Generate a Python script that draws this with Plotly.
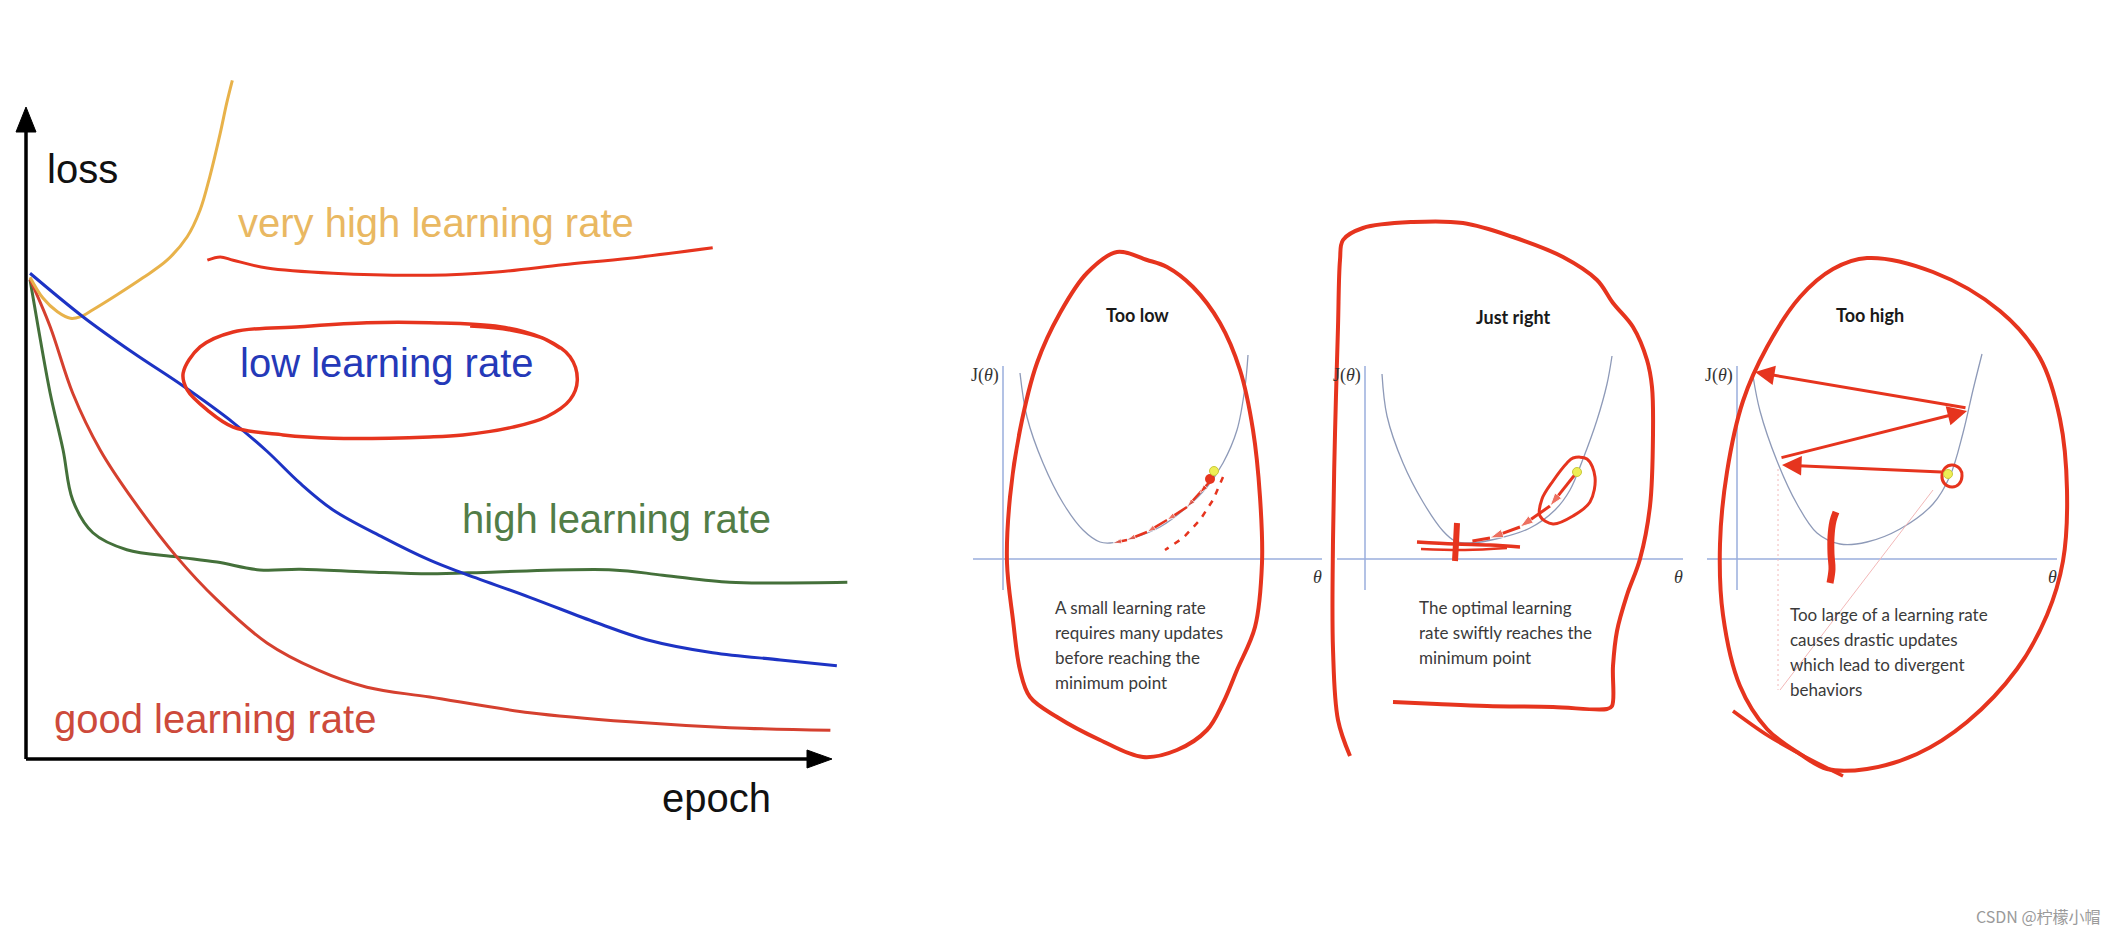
import plotly.graph_objects as go

W, H = 2118, 936

# ---------------- Left chart: loss vs epoch (epoch 0..100, loss 0..100) ----------------
ORANGE_EPOCH = [0.5, 2.1, 3.9, 5.5, 6.7, 8.3, 11.3, 14.5, 17.5, 20.0, 21.6, 22.8, 24.1, 24.9, 25.6]
ORANGE_LOSS = [73.9, 70.7, 68.6, 67.6, 67.8, 68.9, 71.2, 73.8, 76.5, 80.1, 84.2, 89.3, 96.0, 100.6, 104.1]

BLUE_EPOCH = [0.5, 7.1, 13.3, 19.5, 25.7, 29.9, 34.0, 38.1, 44.3, 50.1, 54.2, 62.5, 70.8, 77.0, 85.2, 93.6, 100.6]
BLUE_LOSS = [74.5, 67.8, 62.3, 57.2, 51.6, 47.2, 42.3, 38.2, 34.0, 30.5, 28.5, 24.8, 20.9, 18.3, 16.3, 15.2, 14.3]

GREEN_EPOCH = [0.5, 1.5, 3.0, 4.6, 5.8, 8.3, 12.5, 18.7, 23.7, 29.0, 34.0, 42.3, 50.1, 58.4, 72.8, 79.0, 87.3, 93.6, 101.9]
GREEN_LOSS = [73.5, 66.3, 56.1, 47.4, 39.7, 34.7, 32.1, 31.0, 30.2, 29.0, 29.1, 28.7, 28.4, 28.7, 29.0, 28.2, 27.1, 27.0, 27.1]

RED_EPOCH = [0.5, 3.0, 5.8, 9.2, 13.3, 18.7, 23.7, 29.9, 36.1, 42.3, 50.1, 62.5, 74.9, 87.3, 99.8]
RED_LOSS = [73.6, 66.3, 56.1, 47.4, 39.7, 31.0, 24.4, 17.8, 13.7, 11.0, 9.5, 7.1, 5.7, 4.8, 4.4]

# hand-drawn red marks on the left chart
UNDER_EPOCH = [22.5, 24.1, 25.7, 29.9, 38.1, 50.1, 58.4, 66.6, 74.9, 85.2]
UNDER_LOSS = [76.5, 77.0, 76.5, 75.3, 74.5, 74.2, 74.7, 75.8, 76.8, 78.4]
OVAL_EPOCH = [66.3, 63.8, 58.8, 50.1, 42.3, 34.0, 25.7, 21.6, 19.5, 20.0, 22.5, 25.7, 31.9, 38.1,
              50.1, 54.2, 60.4, 64.6, 67.5, 68.4, 67.5, 64.6, 60.1, 55.1]
OVAL_LOSS = [63.0, 64.7, 66.3, 66.9, 66.9, 66.3, 65.5, 63.2, 59.2, 56.6, 53.5, 50.9, 49.7, 49.2,
             49.4, 49.7, 50.9, 52.5, 55.1, 58.1, 61.7, 64.3, 65.8, 66.4]

LEFT_LABELS = ["loss", "very high learning rate", "low learning rate",
               "high learning rate", "good learning rate", "epoch"]
LEFT_LABEL_EPOCH = [2.4, 26.1, 26.3, 53.9, 3.2, 78.7]
LEFT_LABEL_LOSS = [90.5, 82.2, 60.7, 36.8, 6.1, -6.0]

AXIS_MAX = 100  # arrow tips of the epoch / loss axes

# ---------------- Right: three gradient-descent panels (theta, J) ----------------
PANEL_TITLES = ["Too low", "Just right", "Too high"]
PANEL_TEXT = [
    ["A small learning rate", "requires many updates", "before reaching the", "minimum point"],
    ["The optimal learning", "rate swiftly reaches the", "minimum point"],
    ["Too large of a learning rate", "causes drastic updates", "which lead to divergent", "behaviors"],
]
PANEL_TEXT_J = [[-48, -73, -98, -123], [-48, -73, -98], [-55, -80, -105, -130]]
PANEL_TEXT_T = [50, 52, 51]
PANEL_TITLE_T = [134, 148, 133]
PANEL_TITLE_J = [244, 242, 244]

THETA_AXIS = [[-30, 319], [-28, 318], [-30, 320]]
J_AXIS = [-31, 193]

P1_CURVE_T = [17, 24, 40, 60, 80, 97, 107, 130, 157, 184, 204, 220, 234, 242, 245]
P1_CURVE_J = [186, 142, 96, 56, 29, 17, 16, 21, 32, 52, 72, 96, 129, 172, 204]
P2_CURVE_T = [17, 22, 38, 58, 78, 90, 105, 135, 165, 190, 205, 218, 232, 242, 247]
P2_CURVE_J = [185, 143, 96, 57, 28, 18, 16, 21, 31, 49, 69, 100, 139, 175, 203]
P3_CURVE_T = [16, 23, 40, 60, 80, 103, 130, 163, 196, 213, 226, 236, 245]
P3_CURVE_J = [183, 148, 98, 55, 26, 15, 17, 30, 55, 83, 126, 169, 205]

START_T = [211, 212, 211]
START_J = [88, 87, 85]

# hand-drawn red marks, panel 1
P1_LOOP_T = [114, 144, 164, 190, 217, 237, 250, 257, 259, 252, 234, 220, 204, 174, 140, 97, 54, 27,
             17, 10, 4, 7, 17, 34, 57, 84, 114]
P1_LOOP_J = [307, 299, 292, 272, 236, 189, 129, 62, -4, -68, -111, -144, -171, -191, -198, -181,
             -158, -138, -111, -61, -4, 62, 129, 196, 246, 286, 307]
P1_STEPS_T = [210, 197, 184, 164, 144, 124, 110]
P1_STEPS_J = [81, 66, 52, 39, 27, 19, 16]
P1_DASH_T = [220, 210, 197, 180, 162]
P1_DASH_J = [82, 59, 39, 21, 9]

# panel 2
P2_LOOP_T = [-15, -27, -32, -32, -30, -27, -25, -22, -2, 48, 98, 148, 198, 232, 248, 268, 282, 287,
             288, 285, 275, 262, 252, 248, 247, 242, 188, 122, 72, 28]
P2_LOOP_J = [-197, -161, -90, 18, 125, 232, 299, 319, 331, 337, 336, 322, 302, 279, 256, 232, 199,
             172, 125, 53, 0, -36, -72, -107, -147, -150, -148, -147, -145, -143]
P2_RING_T = [208, 222, 230, 225, 208, 188, 175, 177, 188, 202, 208]
P2_RING_J = [101, 100, 82, 57, 43, 35, 43, 60, 78, 96, 101]
P2_STEPS_T = [212, 185, 155, 125, 95]
P2_STEPS_J = [87, 53, 32, 21, 16]
P2_HBAR_T = [52, 90, 125, 155]
P2_HBAR_J = [17, 15, 14, 12]
P2_HBAR2_T = [56, 100, 142]
P2_HBAR2_J = [10, 9, 11]
P2_VBAR_T = [92, 91, 90]
P2_VBAR_J = [36, 16, -2]

# panel 3
P3_LOOP_T = [130, 196, 263, 303, 323, 330, 326, 310, 280, 230, 180, 130, 90, 63, 30, 3, -14, -17,
             -10, 6, 30, 63, 96, 130]
P3_LOOP_J = [301, 287, 248, 201, 140, 69, -2, -56, -110, -163, -195, -210, -210, -195, -170, -127,
             -56, 15, 87, 158, 212, 262, 290, 301]
P3_TAIL_T = [-4, 30, 63, 106]
P3_TAIL_J = [-152, -176, -195, -217]
P3_RING_T = [215, 223, 225, 222, 215, 207, 205, 208, 215]
P3_RING_J = [94, 90, 83, 75, 72, 76, 84, 91, 94]
P3_JUMP_FROM_T = [206, 43, 230]
P3_JUMP_FROM_J = [87, 101, 151]
P3_JUMP_TO_T = [45, 230, 18]
P3_JUMP_TO_J = [94, 148, 187]
P3_BLOB_T = [99, 96, 94, 94, 95, 93]
P3_BLOB_J = [47, 38, 22, 5, -10, -24]
P3_GUIDE_V_T = [41, 41]
P3_GUIDE_V_J = [90, -131]
P3_GUIDE_D_T = [196, 43]
P3_GUIDE_D_J = [69, -131]

WATERMARK = "CSDN @柠檬小帽"

# ---------------- styles ----------------
ORANGE, BLUE, GREEN, RED = "#E8B24A", "#1D33C4", "#44703A", "#D5402F"
HAND = "#E6341E"
AX_BLUE, CURVE_GRAY = "#9AAEDC", "#8E9AB8"
LABEL_COLORS = ["#111111", "#E9B862", "#2539B8", "#527D47", "#CD4A3B", "#111111"]
ARIAL = "Liberation Sans, Arial, sans-serif"
BODY = "Lato, Open Sans, sans-serif"
SERIF = "Liberation Serif, DejaVu Serif, serif"

# pixel layout of the subplots
L_ORIGIN_X, L_ORIGIN_Y, L_PX_EPOCH, L_PX_LOSS = 26, 759, 8.06, 6.52
L_BOX = (0, 880, 40, 860)  # x0, x1, top, bottom
P_ORIGIN_X = [1003, 1365, 1737]
P_ORIGIN_Y = 559
P_BOX_X = [(958, 1330), (1318, 1716), (1693, 2085)]
P_BOX_Y = (200, 800)


def xdom(a, b):
    return [a / W, b / W]


def ydom(top, bottom):
    return [(H - bottom) / H, (H - top) / H]


fig = go.Figure()


def line(x, y, ax, color, width, shape="spline", dash=None, **kw):
    fig.add_trace(go.Scatter(x=x, y=y, xaxis="x" + ax, yaxis="y" + ax, mode="lines",
                             line=dict(color=color, width=width, shape=shape, dash=dash,
                                       smoothing=1.0 if shape == "spline" else None),
                             hoverinfo="skip", **kw))


# ---- left chart ----
line(GREEN_EPOCH, GREEN_LOSS, "", GREEN, 3)
line(RED_EPOCH, RED_LOSS, "", RED, 3)
line(ORANGE_EPOCH, ORANGE_LOSS, "", ORANGE, 3)
line(BLUE_EPOCH, BLUE_LOSS, "", BLUE, 3)
line(UNDER_EPOCH, UNDER_LOSS, "", HAND, 3)
line(OVAL_EPOCH, OVAL_LOSS, "", HAND, 3.5)

# axes with arrow heads
head_y = AXIS_MAX - 25 / L_PX_LOSS
head_x = AXIS_MAX - 25 / L_PX_EPOCH
line([0, 0], [0, head_y + 0.5], "", "#000000", 3.5, shape="linear")
line([0, head_x + 0.5], [0, 0], "", "#000000", 3.5, shape="linear")
fig.add_trace(go.Scatter(x=[0, -10 / L_PX_EPOCH, 10 / L_PX_EPOCH, 0],
                         y=[AXIS_MAX, head_y, head_y, AXIS_MAX], mode="lines", fill="toself",
                         fillcolor="#000000", line=dict(color="#000000", width=1), hoverinfo="skip"))
fig.add_trace(go.Scatter(x=[AXIS_MAX, head_x, head_x, AXIS_MAX],
                         y=[0, 9 / L_PX_LOSS, -9 / L_PX_LOSS, 0], mode="lines", fill="toself",
                         fillcolor="#000000", line=dict(color="#000000", width=1), hoverinfo="skip"))

annotations = []
for txt, ex, ly, col in zip(LEFT_LABELS, LEFT_LABEL_EPOCH, LEFT_LABEL_LOSS, LABEL_COLORS):
    annotations.append(dict(x=ex, y=ly, xref="x", yref="y", text=txt, showarrow=False,
                            xanchor="left", yanchor="middle",
                            font=dict(family=ARIAL, size=40, color=col)))

# ---- right panels ----
curves = [(P1_CURVE_T, P1_CURVE_J), (P2_CURVE_T, P2_CURVE_J), (P3_CURVE_T, P3_CURVE_J)]
for i in range(3):
    ax = str(i + 2)
    line(THETA_AXIS[i], [0, 0], ax, AX_BLUE, 1.5, shape="linear")
    line([0, 0], J_AXIS, ax, AX_BLUE, 1.5, shape="linear")
    line(curves[i][0], curves[i][1], ax, CURVE_GRAY, 1.3)
    annotations.append(dict(x=PANEL_TITLE_T[i], y=PANEL_TITLE_J[i], xref="x" + ax, yref="y" + ax,
                            text="<b>" + PANEL_TITLES[i] + "</b>", showarrow=False,
                            xanchor="center", yanchor="middle",
                            font=dict(family=BODY, size=18, color="#1a1a1a")))
    annotations.append(dict(x=-2, y=184, xref="x" + ax, yref="y" + ax, text="J(<i>θ</i>)",
                            showarrow=False, xanchor="right", yanchor="middle",
                            font=dict(family=SERIF, size=18, color="#333333")))
    annotations.append(dict(x=THETA_AXIS[i][1] - 5, y=-18, xref="x" + ax, yref="y" + ax,
                            text="<i>θ</i>", showarrow=False, xanchor="center", yanchor="middle",
                            font=dict(family=SERIF, size=18, color="#333333")))
    for txt, jj in zip(PANEL_TEXT[i], PANEL_TEXT_J[i]):
        annotations.append(dict(x=PANEL_TEXT_T[i], y=jj, xref="x" + ax, yref="y" + ax, text=txt,
                                showarrow=False, xanchor="left", yanchor="middle",
                                font=dict(family=BODY, size=17, color="#3a3a3a")))

# panel 1 marks
line(P1_LOOP_T, P1_LOOP_J, "2", HAND, 4)
line(P1_DASH_T, P1_DASH_J, "2", HAND, 2.5, shape="linear", dash="6px,7px")
fig.add_trace(go.Scatter(x=P1_STEPS_T, y=P1_STEPS_J, xaxis="x2", yaxis="y2", mode="lines+markers",
                         line=dict(color=HAND, width=2.5),
                         marker=dict(symbol="arrow", angleref="previous", color=HAND,
                                     size=[0] + [9] * (len(P1_STEPS_T) - 1)),
                         hoverinfo="skip"))
fig.add_trace(go.Scatter(x=[START_T[0] - 4], y=[START_J[0] - 8], xaxis="x2", yaxis="y2",
                         mode="markers", marker=dict(color=HAND, size=10), hoverinfo="skip"))

# panel 2 marks
line(P2_LOOP_T, P2_LOOP_J, "3", HAND, 4)
line(P2_RING_T, P2_RING_J, "3", HAND, 3)
fig.add_trace(go.Scatter(x=P2_STEPS_T, y=P2_STEPS_J, xaxis="x3", yaxis="y3", mode="lines+markers",
                         line=dict(color=HAND, width=3),
                         marker=dict(symbol="arrow", angleref="previous", color=HAND,
                                     size=[0, 14, 14, 14, 0]),
                         hoverinfo="skip"))
line(P2_HBAR_T, P2_HBAR_J, "3", HAND, 3.5)
line(P2_HBAR2_T, P2_HBAR2_J, "3", HAND, 2.5)
line(P2_VBAR_T, P2_VBAR_J, "3", HAND, 6)

# panel 3 marks
line(P3_GUIDE_V_T, P3_GUIDE_V_J, "4", "#F2B8B8", 1, shape="linear", dash="2px,3px")
line(P3_GUIDE_D_T, P3_GUIDE_D_J, "4", "#F2B8B8", 1, shape="linear")
line(P3_LOOP_T, P3_LOOP_J, "4", HAND, 4)
line(P3_TAIL_T, P3_TAIL_J, "4", HAND, 3.5)
line(P3_RING_T, P3_RING_J, "4", HAND, 3)
line(P3_BLOB_T, P3_BLOB_J, "4", HAND, 7)
for ft, fj, tt, tj in zip(P3_JUMP_FROM_T, P3_JUMP_FROM_J, P3_JUMP_TO_T, P3_JUMP_TO_J):
    annotations.append(dict(x=tt, y=tj, ax=ft, ay=fj, xref="x4", yref="y4", axref="x4", ayref="y4",
                            text="", showarrow=True, arrowhead=2, arrowsize=1.3, arrowwidth=3,
                            arrowcolor=HAND, standoff=0, startstandoff=0))

# starting points (yellow dots)
for i in range(3):
    ax = str(i + 2)
    fig.add_trace(go.Scatter(x=[START_T[i]], y=[START_J[i]], xaxis="x" + ax, yaxis="y" + ax,
                             mode="markers",
                             marker=dict(color="#EEEE55", size=9, line=dict(color="#C9C93A", width=1)),
                             hoverinfo="skip"))

annotations.append(dict(x=2103 / W, y=(H - 916) / H, xref="paper", yref="paper", text=WATERMARK,
                        showarrow=False, xanchor="right", yanchor="middle",
                        font=dict(family="Noto Sans CJK SC, sans-serif", size=16, color="#9a9a9a")))

layout = dict(width=W, height=H, margin=dict(l=0, r=0, t=0, b=0), paper_bgcolor="white",
              plot_bgcolor="rgba(0,0,0,0)", showlegend=False, annotations=annotations)
hidden = dict(visible=False, fixedrange=True, showgrid=False, zeroline=False)
lx0, lx1, lt, lb = L_BOX
layout["xaxis"] = dict(domain=xdom(lx0, lx1), anchor="y",
                       range=[(lx0 - L_ORIGIN_X) / L_PX_EPOCH, (lx1 - L_ORIGIN_X) / L_PX_EPOCH], **hidden)
layout["yaxis"] = dict(domain=ydom(lt, lb), anchor="x",
                       range=[(L_ORIGIN_Y - lb) / L_PX_LOSS, (L_ORIGIN_Y - lt) / L_PX_LOSS], **hidden)
for i in range(3):
    k = str(i + 2)
    bx0, bx1 = P_BOX_X[i]
    layout["xaxis" + k] = dict(domain=xdom(bx0, bx1), anchor="y" + k,
                               range=[bx0 - P_ORIGIN_X[i], bx1 - P_ORIGIN_X[i]], **hidden)
    layout["yaxis" + k] = dict(domain=ydom(*P_BOX_Y), anchor="x" + k,
                               range=[P_ORIGIN_Y - P_BOX_Y[1], P_ORIGIN_Y - P_BOX_Y[0]], **hidden)
fig.update_layout(**layout)
fig.write_html("out.html", config={"displayModeBar": False},
               post_script="document.body.style.margin='0px';document.body.style.overflow='hidden';")
